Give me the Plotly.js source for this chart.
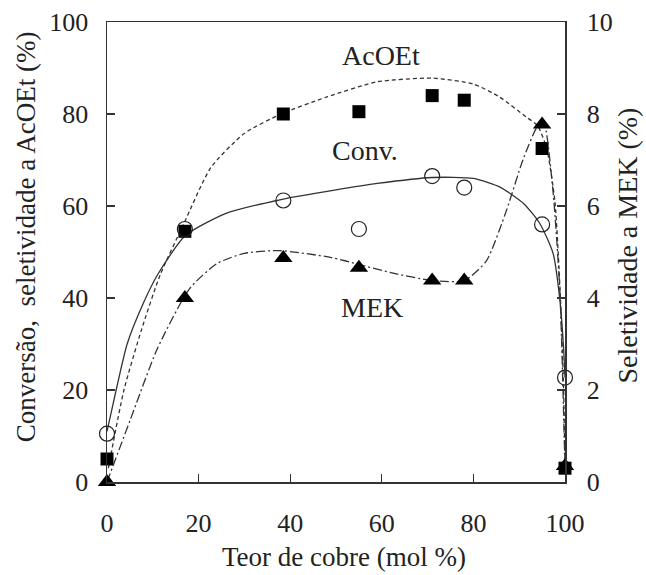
<!DOCTYPE html>
<html>
<head>
<meta charset="utf-8">
<script src="https://cdn.plot.ly/plotly-3.0.1.min.js"></script>
<style>html,body{margin:0;padding:0;background:#fff;}#chart{width:646px;height:575px;}</style>
</head>
<body>
<div id="chart"></div>
<script>
// Measured points
var copper = [0, 17, 38.5, 55, 71, 78, 95, 100];
var acoetSel = [5, 54.5, 80, 80.5, 84, 83, 72.5, 3];
var conversion = [10.5, 55, 61.2, 55, 66.5, 64, 56, 22.7];
var mekSel = [0, 4.0, 4.87, 4.66, 4.38, 4.38, 7.77, 0.35];

// Hand-drawn trend curves
var convCurveX = [0, 2, 4.4, 8, 11, 17, 26, 38, 50, 59, 71, 80, 86, 91, 94.5, 97.4, 98.9, 99.7, 100];
var convCurveY = [11, 20, 30, 39, 45, 53.5, 58.4, 61.4, 63.5, 64.9, 66.2, 66, 64, 60.5, 56.2, 49.7, 39.4, 29, 22.7];
var acoetCurveX = [0.3, 3.7, 7.5, 11.6, 16.7, 22.7, 30, 38, 48, 59, 71, 80, 85.7, 91.6, 94, 96, 97.8, 99, 99.7, 100];
var acoetCurveY = [3, 20, 33, 45, 56, 68.4, 75.8, 80, 83.7, 87, 87.8, 86.5, 83.7, 79.3, 77.5, 72.5, 61, 40, 20, 3];
var mekCurveX = [0, 5, 11, 18, 24, 30, 37.6, 49, 55, 62, 71, 78, 82.8, 87.2, 90.8, 93.8, 95.3, 97.4, 98.9, 100];
var mekCurveY = [0, 1.33, 2.9, 4.2, 4.75, 4.97, 5.03, 4.88, 4.73, 4.55, 4.38, 4.38, 4.8, 5.9, 7.0, 7.7, 7.84, 6.3, 4.1, 0.3];

var xTicks = [0, 20, 40, 60, 80, 100];
var yTicks = [0, 20, 40, 60, 80, 100];
var y2Ticks = [0, 2, 4, 6, 8, 10];

var xTitle = 'Teor de cobre (mol %)';
var yTitle = 'Conversão,  seletividade a AcOEt (%)';
var y2Title = 'Seletividade a MEK (%)';
var seriesLabels = ['AcOEt', 'Conv.', 'MEK'];

var lineCol = '#333';
var font = 'Liberation Serif';
var txtCol = '#222';

var traces = [
  {x: convCurveX, y: convCurveY, mode: 'lines', line: {shape: 'spline', smoothing: 0.6, color: lineCol, width: 1.3}, hoverinfo: 'skip'},
  {x: acoetCurveX, y: acoetCurveY, mode: 'lines', line: {shape: 'spline', smoothing: 0.6, color: lineCol, width: 1.3, dash: '4px,3px'}, hoverinfo: 'skip'},
  {x: mekCurveX, y: mekCurveY, yaxis: 'y2', mode: 'lines', line: {shape: 'spline', smoothing: 0.6, color: lineCol, width: 1.3, dash: '9px,3px,2px,3px'}, hoverinfo: 'skip'},
  {x: copper, y: acoetSel, mode: 'markers', cliponaxis: false, marker: {symbol: 'square', size: 13, color: '#000'}},
  {x: copper, y: conversion, mode: 'markers', cliponaxis: false, marker: {symbol: 'circle-open', size: 15, color: '#222', line: {width: 1.2, color: '#222'}}},
  {x: copper, y: mekSel, yaxis: 'y2', mode: 'markers', cliponaxis: false, marker: {symbol: 'triangle-up', size: 16, color: '#000'}}
];

var axCommon = {
  showgrid: false, zeroline: false, showline: true, linecolor: '#333', linewidth: 1.5,
  ticks: 'inside', ticklen: 8, tickwidth: 1.2, tickcolor: '#333',
  tickfont: {family: font, size: 26, color: txtCol}
};

function ann(x, y, text, size, extra) {
  return Object.assign({x: x, y: y, text: text, showarrow: false, xanchor: 'center', yanchor: 'middle',
    font: {family: font, size: size, color: txtCol}}, extra || {});
}

var layout = {
  width: 646, height: 575,
  margin: {l: 107, r: 81, t: 22, b: 93},
  paper_bgcolor: '#fff', plot_bgcolor: '#fff',
  showlegend: false,
  font: {family: font, color: txtCol},
  xaxis: Object.assign({}, axCommon, {range: [0, 100], tickvals: xTicks, mirror: true, ticklabelstandoff: 17}),
  yaxis: Object.assign({}, axCommon, {range: [0, 100], tickvals: yTicks, ticklabelstandoff: 12}),
  yaxis2: Object.assign({}, axCommon, {range: [0, 10], tickvals: y2Ticks, overlaying: 'y', side: 'right', ticklabelstandoff: 15}),
  annotations: [
    ann(59.8, 92.8, seriesLabels[0], 28, {xref: 'x', yref: 'y'}),
    ann(56.3, 72.1, seriesLabels[1], 28, {xref: 'x', yref: 'y'}),
    ann(57.9, 37.9, seriesLabels[2], 28, {xref: 'x', yref: 'y'}),
    ann(0.517, -0.162, xTitle, 27, {xref: 'paper', yref: 'paper'}),
    ann(-0.177, 0.534, yTitle, 27, {xref: 'paper', yref: 'paper', textangle: -90}),
    ann(1.1376, 0.514, y2Title, 28, {xref: 'paper', yref: 'paper', textangle: -90})
  ]
};

Plotly.newPlot('chart', traces, layout, {displayModeBar: false, staticPlot: true});
</script>
</body>
</html>
